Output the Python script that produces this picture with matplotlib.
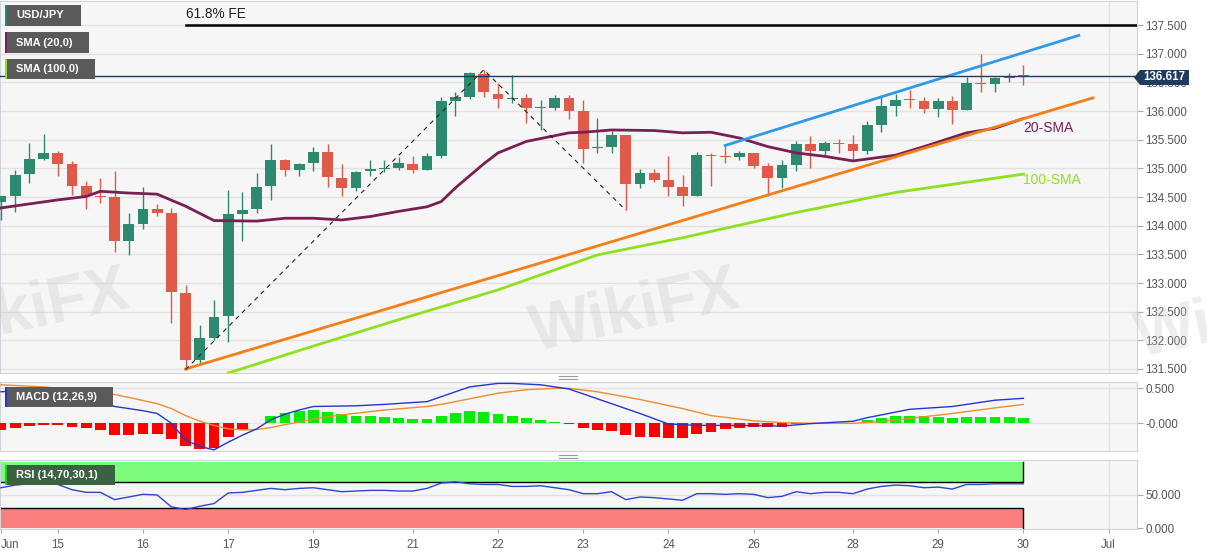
import numpy as np
import matplotlib.pyplot as plt
from matplotlib.patches import Rectangle, Polygon
from matplotlib.lines import Line2D

plt.rcParams['font.family'] = ['Liberation Sans', 'DejaVu Sans']

# ---- 4h candles, x = candle index ----
opens = [134.42, 134.51, 134.90, 135.17, 135.27, 135.08, 134.70, 134.51, 134.50, 133.73,
         134.03, 134.29, 134.22, 132.83, 131.66, 132.04, 132.42, 134.21, 134.29, 134.69,
         135.15, 134.98, 135.09, 135.28, 134.83, 134.66, 134.95, 134.99, 135.01, 135.08,
         134.98, 135.22, 136.17, 136.24, 136.65, 136.30, 136.21, 136.23, 136.05, 136.06,
         136.23, 136.00, 135.36, 135.38, 135.58, 134.73, 134.92, 134.80, 134.67, 134.52,
         135.24, 135.21, 135.19, 135.26, 135.05, 134.83, 135.06, 135.43, 135.30, 135.45,
         135.43, 135.30, 135.75, 136.08, 136.20, 136.17, 136.04, 136.17, 136.02, 136.49,
         136.48, 136.58, 136.62]
highs = [134.51, 134.97, 135.44, 135.60, 135.30, 135.13, 134.78, 134.83, 134.95, 134.22,
         134.67, 134.37, 134.31, 132.97, 132.27, 132.70, 134.63, 134.58, 134.92, 135.42,
         135.16, 135.09, 135.37, 135.43, 135.08, 134.95, 135.14, 135.14, 135.20, 135.21,
         135.26, 136.24, 136.33, 136.69, 136.72, 136.49, 136.63, 136.30, 136.20, 136.28,
         136.28, 136.19, 135.88, 135.66, 135.58, 134.99, 134.99, 135.21, 134.88, 135.28,
         135.26, 135.40, 135.30, 135.26, 135.09, 135.14, 135.47, 135.56, 135.48, 135.51,
         135.59, 135.82, 136.28, 136.30, 136.37, 136.24, 136.23, 136.27, 136.59, 137.00,
         136.59, 136.66, 136.80]
lows = [134.10, 134.24, 134.74, 135.15, 134.87, 134.54, 134.29, 134.40, 133.54, 133.49,
        133.94, 134.17, 132.30, 131.49, 131.58, 132.01, 131.97, 133.74, 134.22, 134.44,
        134.86, 134.87, 134.96, 134.67, 134.52, 134.61, 134.86, 134.94, 134.98, 134.92,
        134.97, 135.18, 135.92, 136.21, 136.24, 136.05, 136.14, 135.80, 135.67, 136.01,
        135.86, 135.10, 135.26, 135.26, 134.27, 134.66, 134.76, 134.51, 134.34, 134.51,
        134.70, 135.09, 135.15, 135.01, 134.52, 134.66, 134.95, 135.01, 135.21, 135.27,
        135.15, 135.25, 135.63, 135.92, 136.05, 135.97, 135.89, 135.78, 136.02, 136.33,
        136.33, 136.50, 136.46]
closes = [134.51, 134.89, 135.17, 135.27, 135.08, 134.70, 134.51, 134.50, 133.73, 134.03,
          134.29, 134.22, 132.84, 131.66, 132.04, 132.41, 134.20, 134.28, 134.67, 135.15,
          134.98, 135.08, 135.28, 134.85, 134.66, 134.93, 134.99, 135.00, 135.09, 134.98,
          135.22, 136.17, 136.24, 136.66, 136.33, 136.21, 136.22, 136.05, 136.06, 136.23,
          136.00, 135.34, 135.38, 135.58, 134.73, 134.92, 134.80, 134.67, 134.52, 135.24,
          135.21, 135.20, 135.26, 135.05, 134.83, 135.06, 135.43, 135.30, 135.45, 135.43,
          135.30, 135.75, 136.08, 136.20, 136.19, 136.04, 136.17, 136.02, 136.49, 136.48,
          136.57, 136.59, 136.617]

sma20_x = [0, 4, 6, 7, 9, 11, 13, 15, 18, 20, 22, 24, 26, 28, 29, 30, 31, 32, 33, 34, 35,
           37, 40, 41, 43, 46, 48, 50, 52, 54, 56, 58, 60, 63, 65, 68, 70, 72]
sma20_y = [134.31, 134.45, 134.51, 134.60, 134.57, 134.55, 134.34, 134.09, 134.08, 134.13,
           134.13, 134.10, 134.16, 134.25, 134.29, 134.33, 134.42, 134.66, 134.87, 135.08,
           135.27, 135.47, 135.62, 135.63, 135.67, 135.66, 135.62, 135.63, 135.53, 135.38,
           135.27, 135.21, 135.13, 135.23, 135.38, 135.62, 135.70, 135.87]
sma100_x = [16, 22, 28, 35, 42, 48, 56, 63, 72]
sma100_y = [131.43, 131.90, 132.36, 132.88, 133.49, 133.79, 134.23, 134.58, 134.90]

support_x = [13, 76.9]
support_y = [131.50, 136.23]
channel_x = [51, 75.9]
channel_y = [135.40, 137.32]
zigzag_x = [13, 34, 44]
zigzag_y = [131.49, 136.72, 134.27]
fe_level = 137.5
last_price = 136.617

# ---- MACD (12,26,9) ----
macd_hist = [-0.095, -0.07, -0.04, -0.025, -0.02, -0.05, -0.07, -0.095, -0.17, -0.17,
             -0.15, -0.15, -0.22, -0.33, -0.37, -0.35, -0.19, -0.095, 0.005, 0.10,
             0.14, 0.17, 0.19, 0.167, 0.13, 0.11, 0.10, 0.086, 0.08, 0.062,
             0.062, 0.11, 0.14, 0.18, 0.16, 0.133, 0.11, 0.07, 0.043, 0.024,
             -0.005, -0.062, -0.095, -0.11, -0.167, -0.19, -0.19, -0.205, -0.21, -0.157,
             -0.12, -0.08, -0.062, -0.057, -0.057, -0.048, -0.01, -0.005, 0.003, 0.005,
             0.01, 0.048, 0.07, 0.10, 0.11, 0.11, 0.095, 0.07, 0.086, 0.086,
             0.086, 0.086, 0.07]
macd_x = [0, 2, 4, 6, 8, 10, 11, 12, 13, 14, 15, 16, 17, 18, 19, 20, 21, 22, 25, 27, 30,
          31, 33, 35, 36, 38, 40, 42, 44, 45, 47, 49, 52, 55, 57, 60, 61, 64, 67, 68, 70, 72]
macd_y = [0.45, 0.48, 0.48, 0.40, 0.24, 0.18, 0.14, 0.0, -0.24, -0.33, -0.38, -0.27, -0.17,
          -0.08, 0.05, 0.13, 0.19, 0.24, 0.25, 0.27, 0.31, 0.38, 0.52, 0.57, 0.57, 0.55,
          0.49, 0.35, 0.21, 0.14, -0.01, -0.03, -0.03, -0.04, -0.005, 0.03, 0.08, 0.20,
          0.24, 0.27, 0.33, 0.357]
signal_x = [0, 3, 7, 9, 11, 12, 13, 14, 15, 16, 17, 18, 19, 20, 21, 22, 24, 27, 30, 31,
            33, 35, 37, 39, 40, 42, 45, 48, 50, 53, 55, 57, 60, 62, 64, 67, 70, 72]
signal_y = [0.55, 0.52, 0.45, 0.37, 0.28, 0.21, 0.11, 0.03, -0.03, -0.08, -0.095, -0.09,
            -0.06, -0.02, 0.02, 0.06, 0.12, 0.19, 0.24, 0.27, 0.35, 0.43, 0.48, 0.50,
            0.50, 0.45, 0.34, 0.21, 0.11, 0.035, 0.01, 0.0, 0.0, 0.024, 0.07, 0.14, 0.22, 0.27]

# ---- RSI (14) ----
rsi = [61, 65, 67, 68, 66, 58, 54, 54, 43, 47, 51, 50, 32, 28, 33, 37, 53, 54, 57, 60,
       58, 60, 61, 58, 55, 56, 57, 57, 56, 56, 60, 68, 70, 67, 66, 66, 63, 63, 64, 61,
       58, 52, 52, 55, 43, 47, 46, 44, 42, 52, 52, 51, 52, 51, 46, 48, 55, 52, 54, 54,
       52, 59, 63, 65, 64, 61, 62, 59, 66, 66, 67, 67, 67]

day_pos = [0, 4, 10, 16, 22, 29, 35, 41, 47, 53, 60, 66, 72, 78]
day_lbl = ['Jun', '15', '16', '17', '19', '21', '22', '23', '24', '26', '28', '29', '30', 'Jul']

W, H = 1207, 555
fig = plt.figure(figsize=(W / 100, H / 100), dpi=100)
fig.patch.set_facecolor('white')

def rect(y0, y1):
    return [0, 1 - y1 / H, 1137 / W, (y1 - y0) / H]

ax = fig.add_axes(rect(1, 373))
axm = fig.add_axes(rect(382, 451))
axr = fig.add_axes(rect(460, 529))

xl = (-0.07, 80.0)
bg = '#f6f6f6'
grid_c = '#e2e2e2'
txt_c = '#555555'
for a in (ax, axm, axr):
    a.set_facecolor(bg)
    a.set_xlim(*xl)
    a.yaxis.tick_right()
    a.tick_params(axis='y', direction='out', length=4, color='#aaaaaa', labelcolor=txt_c,
                  labelsize=8.3, pad=2)
    for s in a.spines.values():
        s.set_color('#d2d2da')
        s.set_linewidth(0.8)
    a.axvline(78, color=grid_c, lw=1, zorder=0)
    a.set_xticks(day_pos)
    a.set_xticklabels([])
    a.tick_params(axis='x', length=0)

# ---- price panel ----
ax.set_ylim(131.43, 137.92)
ticks = np.arange(131.5, 137.51, 0.5)
ax.set_yticks(ticks)
ax.set_yticklabels(['%.3f' % t for t in ticks])
for t in ticks:
    ax.axhline(t, color=grid_c, lw=1, zorder=0)

green = '#2e8a6e'
red = '#df5a48'
idx = np.arange(len(opens))
cols = [green if c >= o else red for o, c in zip(opens, closes)]
ax.vlines(idx, lows, highs, colors=cols, lw=1, zorder=3)
bott = np.minimum(opens, closes)
hgt = np.maximum(np.abs(np.array(closes) - np.array(opens)), 0.015)
ax.bar(idx, hgt, bottom=bott, width=0.76, color=cols, zorder=4)

ax.plot(sma20_x, sma20_y, color='#7a1f52', lw=2, zorder=5)
ax.plot(sma100_x, sma100_y, color='#8fe01e', lw=2, zorder=5)
ax.plot(support_x, support_y, color='#f57f17', lw=2, zorder=5)
ax.plot(channel_x, channel_y, color='#2f9be8', lw=2, zorder=5)
ax.plot(zigzag_x, zigzag_y, color='#222222', lw=0.8, ls=(0, (4, 4)), zorder=5)
ax.plot([zigzag_x[0], xl[1]], [fe_level, fe_level], color='black', lw=1.8, zorder=5)
ax.axhline(last_price, color='#1f3a5c', lw=1, zorder=5)

ax.text(13, 137.70, '61.8% FE', fontsize=9.8, color='#222222', va='center', ha='left')
ax.text(72, 135.71, '20-SMA', fontsize=10, color='#7a1f52', va='center', ha='left')
ax.text(72, 134.80, '100-SMA', fontsize=10, color='#8fe01e', va='center', ha='left')

# ---- MACD panel ----
axm.set_ylim(-0.396, 0.59)
axm.set_yticks([0.5, 0.0])
axm.set_yticklabels(['0.500', '-0.000'])
for t in (0.5, 0.0):
    axm.axhline(t, color=grid_c, lw=1, zorder=0)
hcols = ['#00ee00' if v >= 0 else '#ff0000' for v in macd_hist]
axm.bar(idx, macd_hist, width=0.75, color=hcols, zorder=3)
axm.plot(signal_x, signal_y, color='#f28a30', lw=1, zorder=4)
axm.plot(macd_x, macd_y, color='#2536d0', lw=1, zorder=4)

# ---- RSI panel ----
axr.set_ylim(-1.5, 103)
axr.set_yticks([50, 0])
axr.set_yticklabels(['50.000', '0.000'])
axr.axhline(50, color=grid_c, lw=1, zorder=0)
axr.add_patch(Rectangle((xl[0], 70), 72 - xl[0], 30, facecolor='#7dfb7d', edgecolor='none', zorder=1))
axr.add_patch(Rectangle((xl[0], 0), 72 - xl[0], 30, facecolor='#fc7f7f', edgecolor='none', zorder=1))
axr.plot([xl[0], 72, 72], [70, 70, 100], color='black', lw=1, zorder=2)
axr.plot([xl[0], 72, 72], [30, 30, 0], color='black', lw=1, zorder=2)
axr.plot(idx, rsi, color='#2f45d0', lw=1, zorder=3)
axr.set_xticklabels(day_lbl)
axr.tick_params(axis='x', direction='out', length=3, color='#aaaaaa', labelcolor=txt_c,
                labelsize=8.3, pad=4)
axr.get_xticklabels()[0].set_ha('left')

# ---- legend boxes ----
def px(x, y):
    return x / W, 1 - y / H

def label_box(x0, y0, x1, y1, text, stripe, face='#5a5a5a'):
    fx, fy = px(x0, y1)
    fig.patches.append(Rectangle((fx, fy), (x1 - x0) / W, (y1 - y0) / H, transform=fig.transFigure,
                                 facecolor=face, edgecolor='none', zorder=6))
    fig.patches.append(Rectangle((fx, fy), 2 / W, (y1 - y0) / H, transform=fig.transFigure,
                                 facecolor=stripe, edgecolor='none', zorder=7))
    tx, ty = px(x0 + 11, (y0 + y1) / 2)
    fig.text(tx, ty, text, color='white', fontsize=8, fontweight='bold', va='center', zorder=8)

label_box(5, 5, 81, 26, 'USD/JPY', green)
label_box(5, 32, 89, 53, 'SMA (20,0)', '#7a1f52')
label_box(5, 59, 95, 79, 'SMA (100,0)', '#8fe01e')
label_box(5, 387, 113, 407, 'MACD (12,26,9)', '#2536d0')
label_box(5, 465, 115, 485, 'RSI (14,70,30,1)', '#22cc22', face='#3b6240')

# last price tag
tag = [px(1134, 77.5), px(1140, 70), px(1189, 70), px(1189, 85), px(1140, 85)]
fig.patches.append(Polygon(tag, closed=True, transform=fig.transFigure, facecolor='#1d3c5e',
                           edgecolor='none', zorder=9))
tx, ty = px(1164, 77.5)
fig.text(tx, ty, '%.3f' % last_price, color='white', fontsize=8.3, fontweight='bold',
         ha='center', va='center', zorder=10)

# panel splitter handles
for yy in (376, 379, 455, 458):
    a0, b0 = px(559, yy)
    a1, _ = px(577, yy)
    fig.add_artist(Line2D([a0, a1], [b0, b0], color='#999999', lw=0.8))

# faint watermark
for cx, cy in ((25, 312), (635, 312), (1240, 318)):
    x, y = px(cx, cy)
    fig.text(x, y, 'WikiFX', fontsize=46, fontweight='bold', color='#c9c4c4', alpha=0.3,
             rotation=12, ha='center', va='center', zorder=3)

plt.savefig('out.png', dpi=100, facecolor='white')
